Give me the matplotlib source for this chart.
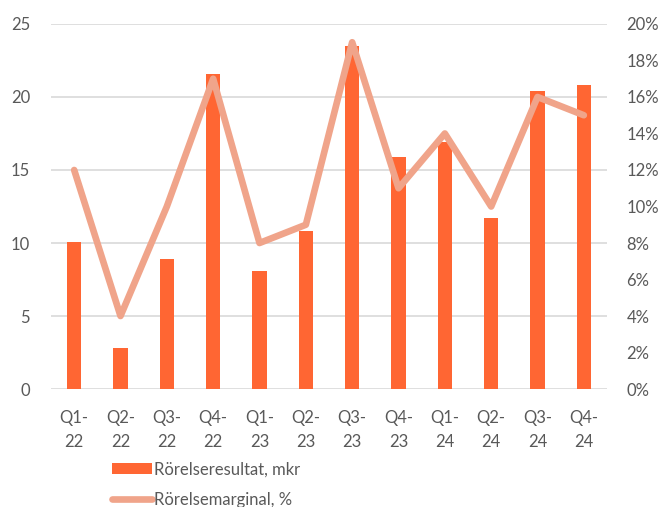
import matplotlib.pyplot as plt
from matplotlib.ticker import FuncFormatter

plt.rcParams['font.family'] = ['Lato', 'DejaVu Sans']

kvartal = ['Q1-\n22', 'Q2-\n22', 'Q3-\n22', 'Q4-\n22', 'Q1-\n23', 'Q2-\n23',
           'Q3-\n23', 'Q4-\n23', 'Q1-\n24', 'Q2-\n24', 'Q3-\n24', 'Q4-\n24']
resultat = [10.1, 2.8, 8.9, 21.6, 8.1, 10.8, 23.5, 15.9, 16.9, 11.7, 20.4, 20.8]
marginal = [12, 4, 10, 17, 8, 9, 19, 11, 14, 10, 16, 15]

bar_color = '#FF6633'
line_color = '#F0A48A'
text_color = '#595959'

fig = plt.figure(figsize=(6.65, 5.07), dpi=100)
ax = fig.add_axes([0.0767, 0.2327, 0.8361, 0.72])
x = range(len(kvartal))

ax.bar(x, resultat, width=0.31, color=bar_color, zorder=2, label='Rörelseresultat, mkr')
ax.set_ylim(0, 25)
ax.set_yticks(range(0, 26, 5))
ax.set_xlim(-0.5, len(kvartal) - 0.5)
ax.set_xticks(list(x))
ax.set_xticklabels(kvartal, linespacing=1.65)
ax.grid(axis='y', color='#D9D9D9', linewidth=1.2, zorder=0)
ax.set_axisbelow(True)

ax2 = ax.twinx()
ax2.plot(x, marginal, color=line_color, linewidth=4.8, solid_capstyle='round',
         solid_joinstyle='round', zorder=3, label='Rörelsemarginal, %')
ax2.set_ylim(0, 20)
ax2.set_yticks(range(0, 21, 2))
ax2.yaxis.set_major_formatter(FuncFormatter(lambda v, p: f'{int(v)}%'))

for a in (ax, ax2):
    for s in a.spines.values():
        s.set_visible(False)
    a.tick_params(length=0, labelsize=12, colors=text_color)
ax.tick_params(axis='y', pad=15)
ax.tick_params(axis='x', pad=15)
ax2.tick_params(axis='y', pad=14)

h1, l1 = ax.get_legend_handles_labels()
h2, l2 = ax2.get_legend_handles_labels()
fig.legend(h1 + h2, l1 + l2, loc='upper left', bbox_to_anchor=(0.168, 0.09),
           frameon=False, fontsize=12, labelcolor=text_color, handlelength=2.4,
           handletextpad=0.15, labelspacing=0.85, borderpad=0, borderaxespad=0)

fig.savefig('out.png', dpi=100)
